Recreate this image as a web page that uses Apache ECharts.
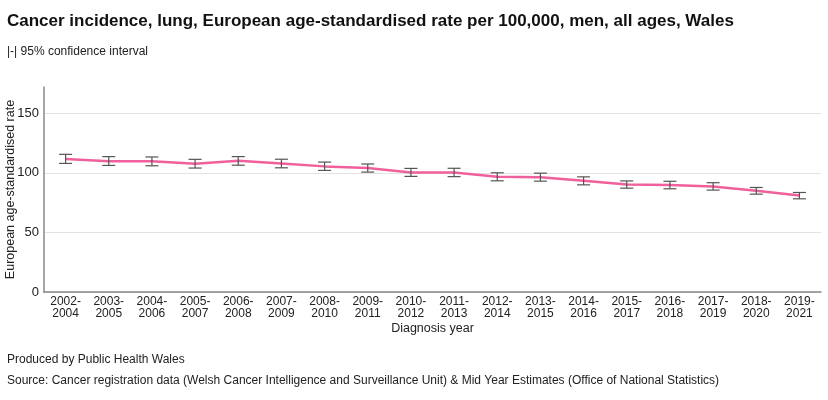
<!DOCTYPE html>
<html>
<head>
<meta charset="utf-8">
<script src="https://cdn.jsdelivr.net/npm/echarts@6/dist/echarts.min.js"></script>
<style>
html,body{margin:0;padding:0;background:#fff;}
#c{width:828px;height:400px;}
</style>
</head>
<body>
<div id="c"></div>
<script>
const categories = ["2002-\n2004","2003-\n2005","2004-\n2006","2005-\n2007","2006-\n2008","2007-\n2009","2008-\n2010","2009-\n2011","2010-\n2012","2011-\n2013","2012-\n2014","2013-\n2015","2014-\n2016","2015-\n2017","2016-\n2018","2017-\n2019","2018-\n2020","2019-\n2021"];
const rate  = [111.6,109.8,109.6,107.6,110.1,107.9,105.4,104.0,100.3,100.3,96.6,96.3,93.3,90.2,89.7,88.6,84.9,80.9];
const lower = [107.9,106.2,105.9,104.0,106.4,104.2,102.0,100.6,97.0,96.8,93.3,93.0,89.9,87.1,86.6,85.5,82.1,78.2];
const upper = [115.5,113.6,113.3,111.3,113.6,111.4,109.0,107.4,103.7,103.8,100.0,99.7,96.6,93.2,92.9,91.7,87.7,83.5];
const yTicks = [0,50,100,150];

const ciData = categories.map((c,i)=>[i, lower[i], upper[i]]);

const chart = echarts.init(document.getElementById('c'), null, {renderer:'canvas'});
const font = 'Liberation Sans, Arial, sans-serif';
const plain = {fontFamily:font, fontSize:12, fontWeight:'normal', color:'#222'};
chart.setOption({
  animation:false,
  textStyle:{fontFamily:font},
  title:[
    {text:'Cancer incidence, lung, European age-standardised rate per 100,000, men, all ages, Wales', left:7, top:13, padding:0,
     textStyle:{fontFamily:font, fontSize:17, fontWeight:'bold', color:'#111'}},
    {text:'|-| 95% confidence interval', left:7, top:46, padding:0, textStyle:plain},
    {text:'Produced by Public Health Wales', left:7, top:354, padding:0, textStyle:plain},
    {text:'Source: Cancer registration data (Welsh Cancer Intelligence and Surveillance Unit) & Mid Year Estimates (Office of National Statistics)', left:7, top:375, padding:0, textStyle:plain}
  ],
  grid:{left:44, right:7, top:87, bottom:108, containLabel:false, outerBoundsMode:'none'},
  xAxis:{
    type:'category', data:categories, boundaryGap:true,
    name:'Diagnosis year', nameLocation:'middle', nameGap:30, nameMoveOverlap:false,
    nameTextStyle:{fontFamily:font, fontSize:12.5, color:'#222'},
    axisLine:{lineStyle:{color:'#888', width:1.5}},
    axisTick:{alignWithLabel:true, length:3, lineStyle:{color:'#888'}},
    axisLabel:{interval:0, fontFamily:font, fontSize:12, lineHeight:12, color:'#222', margin:4}
  },
  yAxis:{
    type:'value', min:0, max:172, interval:50,
    name:'European age-standardised rate', nameLocation:'middle', nameGap:27, nameMoveOverlap:false,
    nameTextStyle:{fontFamily:font, fontSize:12.5, color:'#222'},
    axisLine:{show:true, lineStyle:{color:'#888', width:1.5}},
    axisTick:{show:false},
    axisLabel:{fontFamily:font, fontSize:13, color:'#222', margin:5,
      formatter:v=> yTicks.indexOf(v)>=0 ? String(v) : ''},
    splitLine:{show:true, lineStyle:{color:['#e3e3e3','#e3e3e3','#e3e3e3','#e3e3e3','rgba(0,0,0,0)'], width:1.2}}
  },
  series:[
    {type:'line', data:rate, symbol:'none', smooth:false, z:2,
     lineStyle:{color:'#f0609c', width:2.5}},
    {type:'custom', z:3, data:ciData, encode:{x:0, y:[1,2]},
     renderItem:function(params, api){
       const x = api.value(0);
       const lo = api.coord([x, api.value(1)]);
       const hi = api.coord([x, api.value(2)]);
       const hw = 6.5;
       const st = {stroke:'#555', lineWidth:1.2, fill:null};
       return {type:'group', children:[
         {type:'line', shape:{x1:lo[0], y1:lo[1], x2:hi[0], y2:hi[1]}, style:st},
         {type:'line', shape:{x1:lo[0]-hw, y1:lo[1], x2:lo[0]+hw, y2:lo[1]}, style:st},
         {type:'line', shape:{x1:hi[0]-hw, y1:hi[1], x2:hi[0]+hw, y2:hi[1]}, style:st}
       ]};
     }}
  ]
});
</script>
</body>
</html>
